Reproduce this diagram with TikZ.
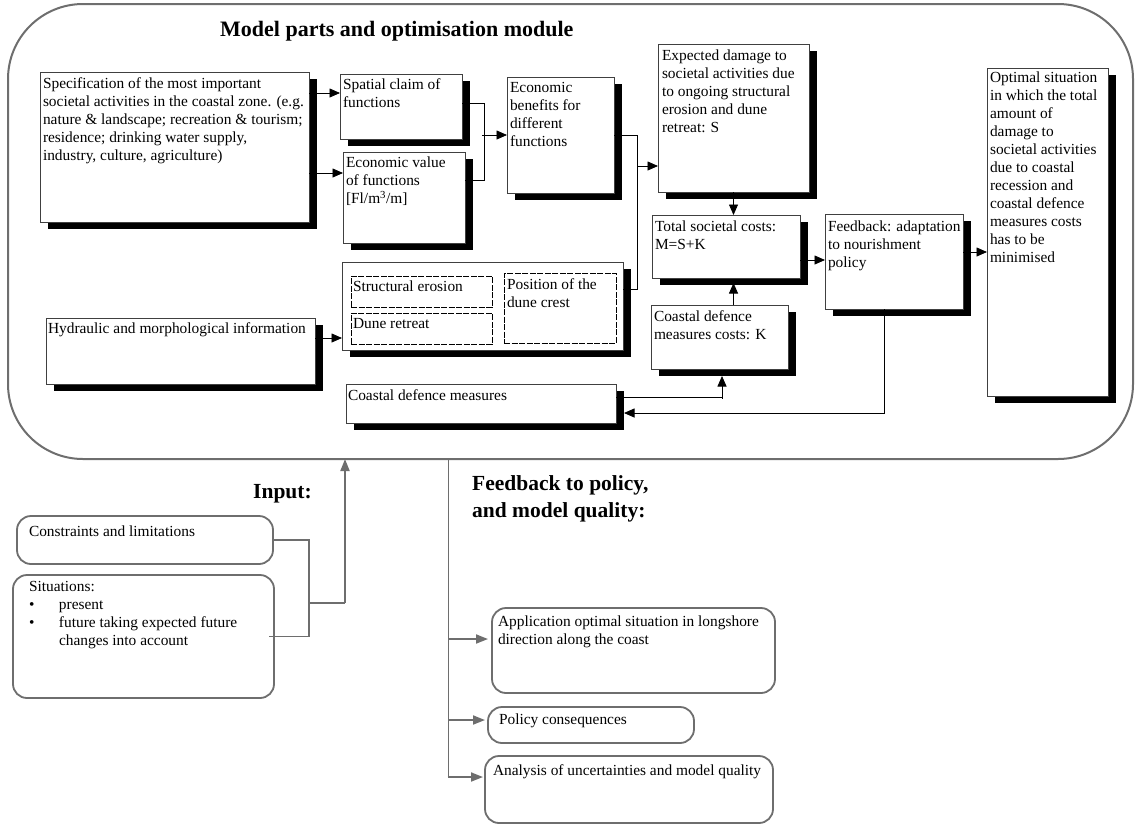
\documentclass[tikz,border=0pt]{standalone}
\usepackage{fontspec}
\setmainfont{Liberation Serif}
\usetikzlibrary{arrows.meta,shadows}
\definecolor{gline}{HTML}{6E6E6E}
\newcommand\tb[5]{\parbox[c][#2][t]{#1}{\vspace*{#4}\raggedright\leftskip=#3\relax\strut #5}}
\begin{document}
\begin{tikzpicture}[x=1pt,y=-1pt,
  font=\fontsize{15.4}{18}\selectfont,
  box/.style={draw=black!75, line width=0.8pt, fill=white, inner sep=0pt, outer sep=0pt, anchor=north west,
    general shadow={fill=black, shadow xshift=8pt, shadow yshift=-7pt}},
  dbox/.style={draw=black, line width=0.7pt, dash pattern=on 6pt off 1.5pt, inner sep=0pt, outer sep=0pt, anchor=north west},
  rbox/.style={draw=gline, line width=1.8pt, rounded corners=14pt, fill=white, inner sep=0pt, outer sep=0pt, anchor=north west},
  conn/.style={draw=black, line width=0.8pt},
  arr/.style={conn, -{Triangle[length=10.5pt,width=9pt]}},
  gconn/.style={draw=gline, line width=1.8pt},
  garr/.style={gconn, -{Triangle[length=12pt,width=9pt]}},
  ttl/.style={font=\fontsize{22}{26}\selectfont\bfseries, inner sep=0pt, anchor=base west},
  sttl/.style={font=\fontsize{21.5}{26.5}\selectfont\bfseries, inner sep=0pt, anchor=base west, align=left}
]
\useasboundingbox (0,0) rectangle (1135,825);

% outer module
\node[draw=gline, line width=2pt, rounded corners=75pt, minimum width=1125pt, minimum height=455pt,
      anchor=north west, inner sep=0pt, outer sep=0pt] (module) at (8,4) {};
\node[ttl] (title) at (220,36) {Model parts and optimisation module};

% boxes
\node[box] (spec) at (40,72) {\tb{269pt}{150pt}{3pt}{3.5pt}{Specification of the most important\\ societal activities in the coastal zone. (e.g.\\ nature \& landscape; recreation \& tourism;\\ residence; drinking water supply,\\ industry, culture, agriculture)}};
\node[box] (spatial) at (340,74) {\tb{122pt}{65pt}{3pt}{3pt}{Spatial claim of\\ functions}};
\node[box] (econval) at (343,152) {\tb{122pt}{91pt}{3pt}{3pt}{Economic value\\ of functions\\ {[}Fl/m\textsuperscript{3}/m{]}}};
\node[box] (benefits) at (507,77) {\tb{107pt}{116pt}{3pt}{3pt}{Economic\\ benefits for\\ different\\ functions}};
\node[box] (expected) at (658,44) {\tb{151pt}{148pt}{4pt}{4pt}{Expected damage to\\ societal activities due\\ to ongoing structural\\ erosion and dune\\ retreat: S}};
\node[box] (total) at (652,215) {\tb{148pt}{63pt}{3pt}{3.5pt}{Total societal costs:\\ M=S+K}};
\node[box] (costs) at (651,305) {\tb{137pt}{64pt}{3pt}{4pt}{Coastal defence\\ measures costs: K}};
\node[box] (feedback) at (825,214) {\tb{138pt}{95pt}{3pt}{4.5pt}{Feedback: adaptation\\ to nourishment\\ policy}};
\node[box] (optimal) at (987,68) {\tb{121pt}{328pt}{3pt}{1.5pt}{Optimal situation\\ in which the total\\ amount of\\ damage to\\ societal activities\\ due to coastal\\ recession and\\ coastal defence\\ measures costs\\ has to be\\ minimised}};
\node[box] (group) at (342,262) {\tb{281pt}{88pt}{0pt}{0pt}{}};
\node[dbox] (serosion) at (351,276) {\tb{141pt}{31pt}{2pt}{3pt}{Structural erosion}};
\node[dbox] (dretreat) at (351,313) {\tb{141pt}{31pt}{2pt}{3pt}{Dune retreat}};
\node[dbox] (crest) at (504,273) {\tb{112pt}{70pt}{3pt}{4pt}{Position of the\\ dune crest}};
\node[box] (hydraulic) at (46,318) {\tb{269pt}{66pt}{2pt}{3pt}{Hydraulic and morphological information}};
\node[box] (measures) at (346,384) {\tb{270pt}{39pt}{2pt}{4pt}{Coastal defence measures}};

% connectors inside module
\coordinate (c1) at ([yshift=-19pt]spatial.north west);
\draw[arr] (c1 -| spec.east) -- (c1);
\coordinate (c2) at ([yshift=-21pt]econval.north west);
\draw[arr] (c2 -| spec.east) -- (c2);
\coordinate (sa) at ([yshift=-29pt]spatial.north east);
\coordinate (ea) at ([yshift=-28pt]econval.north east);
\coordinate (J) at ([xshift=22pt]sa);
\draw[conn] (sa) -- (J) -- (J |- ea) -- (ea);
\draw[arr] ([xshift=-2pt]J |- benefits.west) -- (benefits.west);
\coordinate (K) at ([xshift=23pt]benefits.east);
\coordinate (ga) at ([yshift=-27pt]group.north east);
\draw[conn] (benefits.east) -- (K) -- (K |- ga) -- (ga);
\coordinate (ex) at ([yshift=-122pt]expected.north west);
\draw[arr] (K |- ex) -- (ex);
\draw[arr] (expected.south) -- (expected.south |- total.north);
\coordinate (tf) at ([yshift=-45pt]total.north east);
\draw[arr] (tf) -- (tf -| feedback.west);
\coordinate (fo) at ([yshift=-38pt]feedback.north east);
\draw[arr] (fo) -- (fo -| optimal.west);
\draw[arr] (expected.south |- costs.north) -- ([yshift=-5pt]expected.south |- total.south);
\coordinate (ma) at ([yshift=-13pt]measures.north east);
\coordinate (L) at ([xshift=106pt]ma);
\draw[conn] (ma) -- (L);
\draw[arr] ([yshift=-1.5pt]L) -- ([yshift=-7pt]L |- costs.south);
\coordinate (fb) at ([xshift=-10pt]feedback.south);
\coordinate (mb) at ([xshift=8pt,yshift=-29pt]measures.north east);
\draw[arr] (fb) |- (mb);
\coordinate (ha) at ([yshift=-20pt]hydraulic.north east);
\draw[arr] (ha) -- (ha -| group.west);

% input part
\node[sttl] (input) at (253,498) {Input:};
\node[rbox] (cons) at (17,516) {\tb{256pt}{48pt}{12pt}{8pt}{Constraints and limitations}};
\node[rbox] (sit) at (13,575) {\tb{261pt}{123pt}{16pt}{4pt}{Situations:\\ \makebox[30pt][l]{\textbullet}present\\ \makebox[30pt][l]{\textbullet}future taking expected future\\ \hspace*{30pt}changes into account}};
\coordinate (ij) at ([xshift=36pt]cons.east);
\draw[gconn] (cons.east) -- (ij) -- (ij |- sit.east) -- ([xshift=-5pt]sit.east);
\coordinate (im) at ([yshift=-63pt]ij);
\coordinate (it) at ([xshift=36pt]im);
\draw[gconn] (im) -- (it);
\draw[garr] (it) -- (it |- module.south);

% feedback part
\node[sttl] (fbttl) at (472,517) {Feedback to policy,\\ and model quality:};
\node[rbox] (app) at (492,608) {\tb{283pt}{85pt}{6pt}{6pt}{Application optimal situation in longshore\\ direction along the coast}};
\node[rbox] (pol) at (488,707) {\tb{206pt}{36pt}{11pt}{5pt}{Policy consequences}};
\node[rbox] (ana) at (485,756) {\tb{288pt}{67pt}{8pt}{7pt}{Analysis of uncertainties and model quality}};
\coordinate (ft) at ([xshift=-122pt]module.south);
\coordinate (fa) at ([yshift=-31pt]app.north west);
\coordinate (fp) at ([yshift=-13pt]pol.north west);
\coordinate (fc) at ([yshift=-21pt]ana.north west);
\draw[gconn] (ft) -- (ft |- fc);
\draw[garr] (ft |- fa) -- ([xshift=-4pt]fa);
\draw[garr] (ft |- fp) -- ([xshift=-3pt]fp);
\draw[garr] ([xshift=-0.9pt]ft |- fc) -- ([xshift=-2pt]fc);
\end{tikzpicture}
\end{document}
